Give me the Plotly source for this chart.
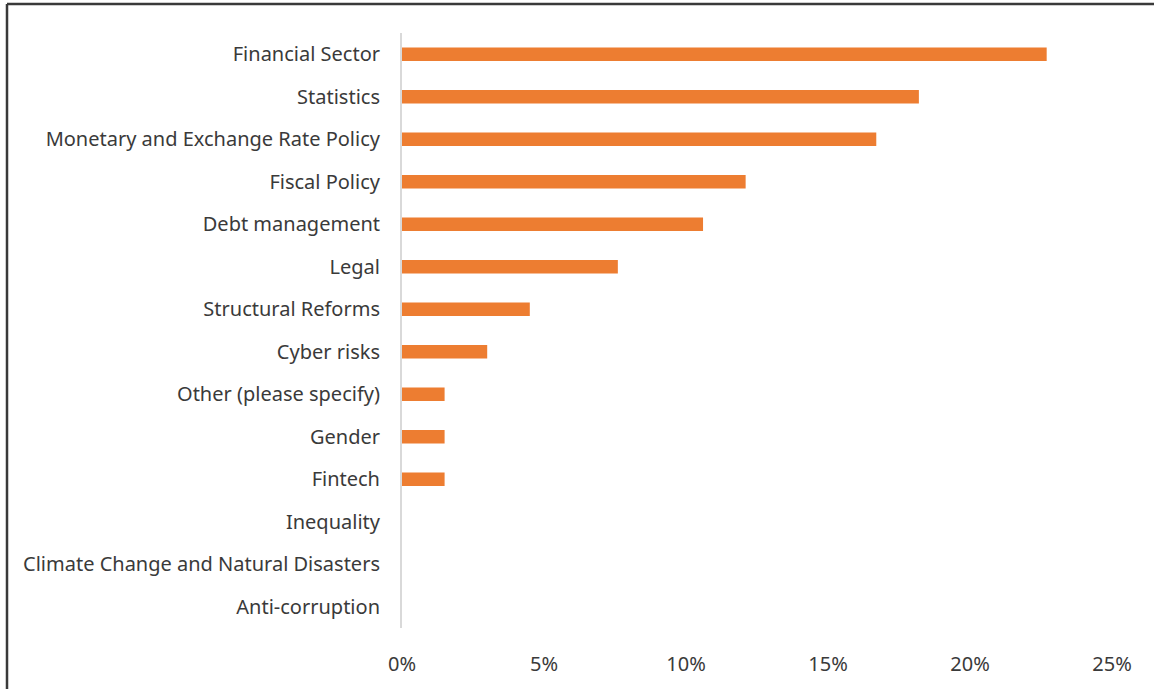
import plotly.graph_objects as go

# Share of responses by topic area
categories = [
    "Financial Sector",
    "Statistics",
    "Monetary and Exchange Rate Policy",
    "Fiscal Policy",
    "Debt management",
    "Legal",
    "Structural Reforms",
    "Cyber risks",
    "Other (please specify)",
    "Gender",
    "Fintech",
    "Inequality",
    "Climate Change and Natural Disasters",
    "Anti-corruption",
]
shares = [0.227, 0.182, 0.167, 0.121, 0.106, 0.076, 0.045, 0.030,
          0.015, 0.015, 0.015, 0.0, 0.0, 0.0]
tick_vals = [0, 0.05, 0.10, 0.15, 0.20, 0.25]
tick_text = ["0%", "5%", "10%", "15%", "20%", "25%"]

W, H = 1154, 689
ML, MR, MT, MB = 402, 42, 33, 59

fig = go.Figure(
    go.Bar(
        x=shares,
        y=categories,
        orientation="h",
        marker=dict(color="#ED7D31", line=dict(width=0)),
        hoverinfo="x+y",
    )
)

font = dict(family="Noto Sans, Open Sans, sans-serif", size=20, color="#3a3a3a")

# outer frame (left and top edges visible)
pw = W - ML - MR
ph = H - MT - MB
def px_to_paper_x(px):
    return (px - ML) / pw
def px_to_paper_y(py):
    return 1 - (py - MT) / ph

frame_color = "#3a3a3a"
shapes = [
    dict(type="line", xref="paper", yref="paper",
         x0=px_to_paper_x(7), x1=px_to_paper_x(W + 5),
         y0=px_to_paper_y(4), y1=px_to_paper_y(4),
         line=dict(color=frame_color, width=2.5)),
    dict(type="line", xref="paper", yref="paper",
         x0=px_to_paper_x(7), x1=px_to_paper_x(7),
         y0=px_to_paper_y(4), y1=px_to_paper_y(H + 5),
         line=dict(color=frame_color, width=2.5)),
]

fig.update_layout(
    width=W,
    height=H,
    margin=dict(l=ML, r=MR, t=MT, b=MB, pad=0),
    paper_bgcolor="white",
    plot_bgcolor="white",
    bargap=0.68,
    showlegend=False,
    font=font,
    shapes=shapes,
    xaxis=dict(
        range=[0, 0.25],
        tickvals=tick_vals,
        ticktext=tick_text,
        showgrid=False,
        zeroline=False,
        showline=False,
        ticks="",
        ticklabelstandoff=22,
        tickfont=font,
    ),
    yaxis=dict(
        autorange="reversed",
        showgrid=False,
        zeroline=False,
        showline=True,
        linecolor="#d9d9d9",
        linewidth=2,
        ticks="",
        ticklabelstandoff=16,
        tickfont=font,
    ),
)

fig.write_html("out.html")
